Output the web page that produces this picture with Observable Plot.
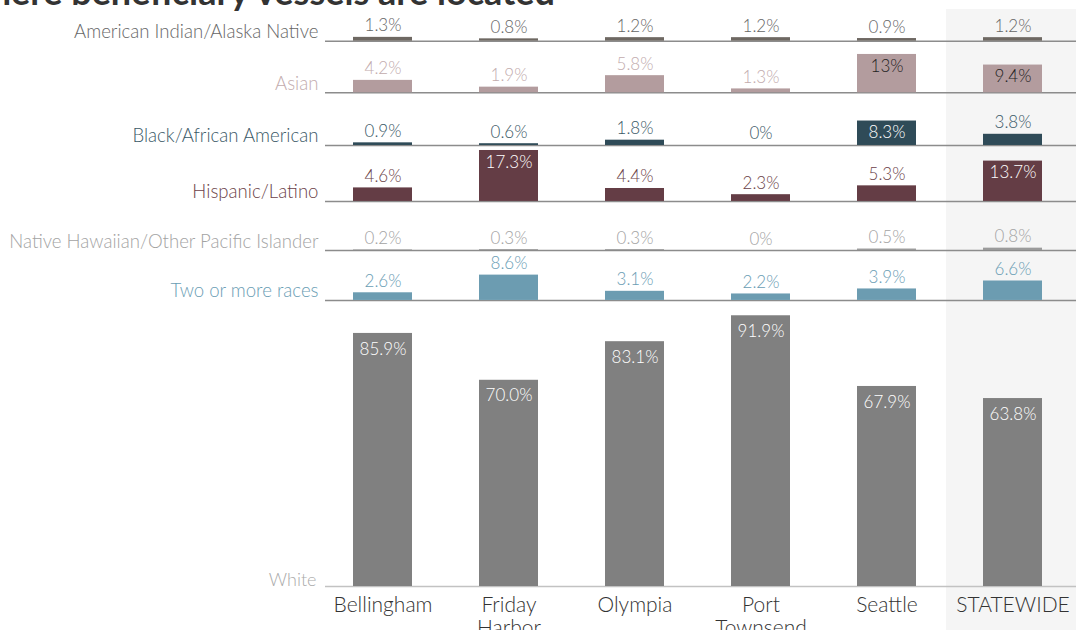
<!DOCTYPE html>
<html>
<head>
<meta charset="utf-8">
<script src="https://cdn.jsdelivr.net/npm/d3@7"></script>
<script src="https://cdn.jsdelivr.net/npm/@observablehq/plot@0.6"></script>
<style>
  html, body { margin: 0; padding: 0; background: #fff; overflow: hidden; }
  body { position: relative; width: 1076px; height: 630px; font-family: Lato, "Open Sans", sans-serif; }
  #title { position: absolute; top: -24px; right: 521px; white-space: nowrap; font: 700 36px/30px Lato, sans-serif; color: #333; z-index: 2; }
  #chart { position: absolute; top: 0; left: 0; }
</style>
</head>
<body>
<div id="title">Race and ethnicity of communities where beneficiary vessels are located</div>
<div id="chart"></div>
<script>
// ---- data ----
const locations = ["Bellingham", "Friday Harbor", "Olympia", "Port Townsend", "Seattle", "STATEWIDE"];
const races = ["American Indian/Alaska Native", "Asian", "Black/African American", "Hispanic/Latino",
  "Native Hawaiian/Other Pacific Islander", "Two or more races", "White"];
const aian     = [1.3, 0.8, 1.2, 1.2, 0.9, 1.2];
const asian    = [4.2, 1.9, 5.8, 1.3, 13, 9.4];
const black    = [0.9, 0.6, 1.8, 0, 8.3, 3.8];
const hispanic = [4.6, 17.3, 4.4, 2.3, 5.3, 13.7];
const nhpi     = [0.2, 0.3, 0.3, 0, 0.5, 0.8];
const twoPlus  = [2.6, 8.6, 3.1, 2.2, 3.9, 6.6];
const white    = [85.9, 70.0, 83.1, 91.9, 67.9, 63.8];
const series = [aian, asian, black, hispanic, nhpi, twoPlus, white];

// ---- layout & style ----
const rowBase = [185.1, 167.6, 149.7, 130.7, 114.05, 97.1, 0]; // row baselines in value units
const barColors  = ["#6e6862", "#b39c9e", "#2f4b58", "#643d45", "#9b9b9b", "#6c9cb1", "#808080"];
const textColors = ["#666666", "#c2abad", "#3a5866", "#6b3f48", "#a3a3a3", "#6a9db4", "#aaaaaa"];
const pxPerUnit = 2.946;
const H = 630, baseY = 586;

const rows = races.flatMap((race, i) => locations.map((loc, j) => {
  const v = series[i][j];
  const inside = race === "White" || (v >= 8.3 && race !== "Two or more races");
  return {race, loc, v, base: rowBase[i], i, inside,
    label: (race === "White" ? v.toFixed(1) : String(v)) + "%",
    bar: barColors[i], text: textColors[i],
    inText: race === "Asian" ? "#1e1e1e" : "#ffffff"};
}));
const rowInfo = races.map((race, i) => ({race, base: rowBase[i], i, text: textColors[i]}));

const yMax = baseY / pxPerUnit;

const chart = Plot.plot({
  width: 1076, height: H,
  marginLeft: 319, marginRight: -1, marginTop: 0, marginBottom: H - baseY,
  x: {type: "band", domain: locations, paddingInner: 0.53, paddingOuter: 0.265, axis: null},
  y: {domain: [0, yMax], axis: null},
  color: {type: "identity"},
  style: {fontFamily: "Lato, 'Open Sans', sans-serif", fontWeight: 300, overflow: "visible"},
  marks: [
    // statewide highlight
    Plot.barY(["STATEWIDE"], {x: d => d, y1: 0, y2: yMax, fill: "#f5f5f5",
      insetLeft: -37, insetRight: -60, insetTop: 9, insetBottom: -(H - baseY)}),
    // row baselines
    Plot.ruleY(rowInfo, {y: "base", stroke: d => d.race === "White" ? "#c2c2c2" : "#8c8c8c",
      strokeWidth: 1.5, insetLeft: 6}),
    // bars
    Plot.barY(rows, {x: "loc", y1: "base", y2: d => d.base + d.v, fill: "bar"}),
    // labels above bars
    Plot.text(rows.filter(d => !d.inside), {x: "loc", y: d => d.base + d.v, text: "label",
      fill: "text", lineAnchor: "bottom", dy: -6, fontSize: 17}),
    // labels inside bars (small rows)
    Plot.text(rows.filter(d => d.inside && d.race !== "White"), {x: "loc", y: d => d.base + d.v, text: "label",
      fill: "inText", lineAnchor: "top", dy: 5, fontSize: 17}),
    // labels inside bars (White row)
    Plot.text(rows.filter(d => d.race === "White"), {x: "loc", y: d => d.base + d.v, text: "label",
      fill: "inText", lineAnchor: "top", dy: 9, fontSize: 17}),
    // row labels
    Plot.text(rowInfo.filter(d => d.race !== "White"), {frameAnchor: "left", y: "base", text: "race",
      fill: "text", textAnchor: "end", lineAnchor: "bottom", dx: -1, dy: -3, fontSize: 18.6}),
    Plot.text(rowInfo.filter(d => d.race === "White"), {frameAnchor: "left", y: "base", text: "race",
      fill: "text", textAnchor: "end", lineAnchor: "bottom", dx: -3, dy: -1, fontSize: 18}),
    // location labels
    Plot.text(locations, {x: d => d, y: 0, text: d => d.replace(" ", "\n"), fill: "#333",
      lineAnchor: "top", dy: 9, fontSize: 21, lineHeight: 1.1})
  ]
});
document.getElementById("chart").appendChild(chart);
</script>
</body>
</html>
